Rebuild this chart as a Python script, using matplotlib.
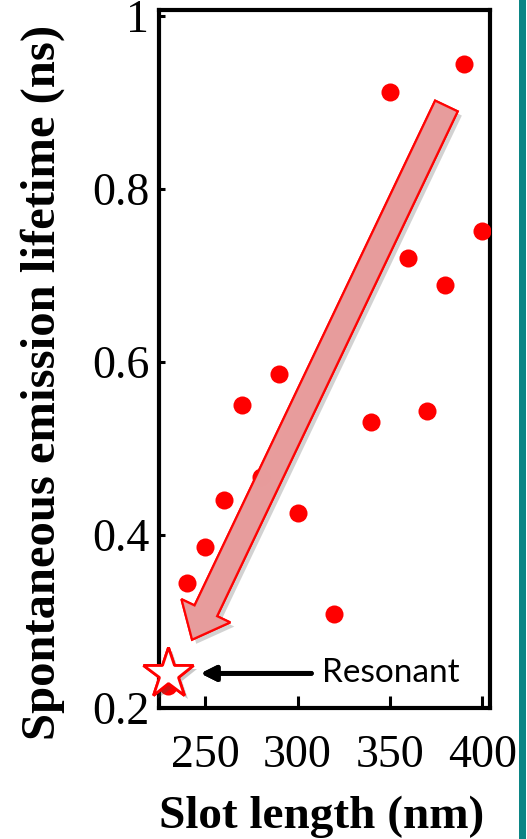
import matplotlib.pyplot as plt
import matplotlib.patheffects as pe
from matplotlib.patches import FancyArrow, Rectangle
from matplotlib.transforms import IdentityTransform

# Measured lifetimes vs slot length
slot_length = [230, 240, 250, 260, 270, 280, 290, 300, 320, 340, 350, 360, 370, 380, 390, 400]
lifetime = [0.226, 0.345, 0.386, 0.440, 0.550, 0.467, 0.586, 0.425, 0.309, 0.531,
            0.912, 0.720, 0.543, 0.689, 0.945, 0.751]

# Resonant slot
resonant_x = 230
resonant_y = 0.240

y_ticks = [0.2, 0.4, 0.6, 0.8, 1.0]
y_tick_labels = ["0.2", "0.4", "0.6", "0.8", "1"]
x_ticks = [250, 300, 350, 400]

fig = plt.figure(figsize=(5.27, 8.39), dpi=100)
ax = fig.add_axes([159 / 527, 131 / 839, 331 / 527, 698 / 839])

ax.plot(slot_length, lifetime, "o", color="red", ms=13, mec="none", zorder=3)

ax.set_xlim(225, 404.2)
ax.set_ylim(0.2, 1.007)
ax.set_xticks(x_ticks)
ax.set_xticklabels([str(v) for v in x_ticks], fontsize=33, family="Liberation Serif")
ax.set_yticks(y_ticks)
ax.set_yticklabels(y_tick_labels, fontsize=33, family="Liberation Serif")
ax.tick_params(axis="x", direction="in", length=9, width=2.2, pad=19)
ax.tick_params(axis="y", direction="in", length=4, width=2.2, pad=7)
for sp in ax.spines.values():
    sp.set_linewidth(3)

ax.set_xlabel("Slot length (nm)", fontsize=34, fontweight="bold", family="Liberation Serif")
ax.xaxis.set_label_coords(0.491, -0.125)
ax.set_ylabel("Spontaneous emission lifetime (ns)", fontsize=35, fontweight="bold",
              family="Liberation Serif")
ax.yaxis.set_label_coords(-0.283, 0.466)

shadow = [pe.withSimplePatchShadow(offset=(3, -3), shadow_rgbFace="gray", alpha=0.35), pe.Normal()]

# trend arrow, drawn in pixel space so its width is not stretched
(x0, y0), (x1, y1) = ax.transData.transform([(380.6, 0.896), (242.9, 0.279)])
big = FancyArrow(x0, y0, x1 - x0, y1 - y0, width=25, head_width=54, head_length=32,
                 length_includes_head=True, transform=IdentityTransform(),
                 facecolor="#e89c9c", edgecolor="red", lw=1.6, alpha=0.95, zorder=4)
big.set_path_effects(shadow)
ax.add_artist(big)

# resonant point
ax.plot(resonant_x, resonant_y, marker="*", ms=38, mfc="white", mec="red", mew=2,
        clip_on=False, zorder=5,
        path_effects=[pe.withSimplePatchShadow(offset=(3, -3), alpha=0.3), pe.Normal()])

ax.annotate("Resonant", xy=(247.5, resonant_y), xytext=(313.5, resonant_y),
            fontsize=24, family="Lato", va="center", ha="left", zorder=6,
            arrowprops=dict(arrowstyle="-|>", color="black", lw=3.5, mutation_scale=22,
                            shrinkA=6, shrinkB=0,
                            path_effects=[pe.withSimplePatchShadow(offset=(2, -2), alpha=0.3),
                                          pe.Normal()]))

# teal slide edge
fig.add_artist(Rectangle((519 / 527, 0), 7 / 527, 1, transform=fig.transFigure,
                         facecolor="#0b8585", edgecolor="none"))

fig.savefig("out.png", dpi=100)
